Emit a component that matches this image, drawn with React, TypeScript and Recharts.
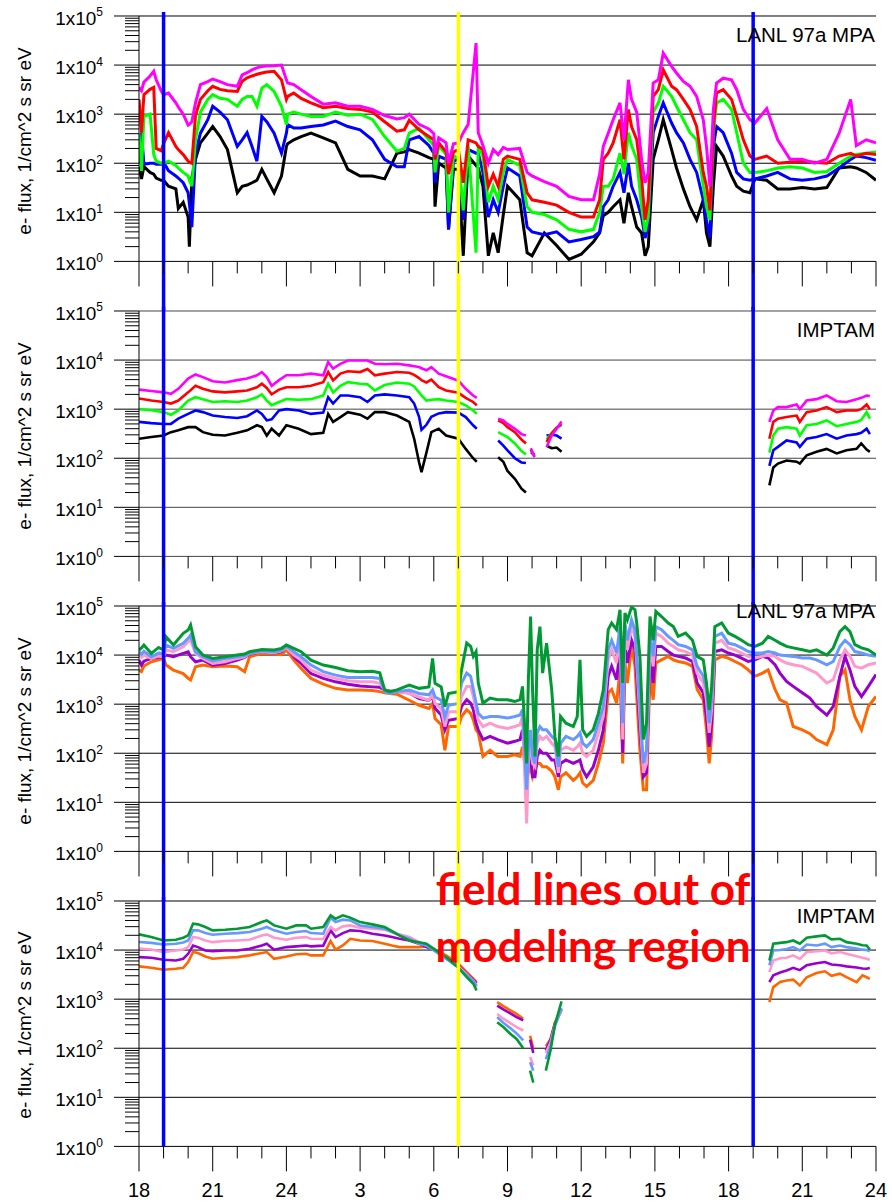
import React from "react";
import { LineChart, Line, XAxis, YAxis, ReferenceLine } from "recharts";

// Time axis in hours from 00 UT of day one (18..48 covers two evenings)
const hourTicks = [
  18, 19, 20, 21, 22, 23, 24, 25, 26, 27, 28, 29, 30, 31, 32, 33, 34, 35, 36, 37, 38, 39, 40, 41, 42, 43, 44, 45,
  46, 47, 48,
];
const decades = [1, 10, 100, 1000, 10000, 100000];
const minorSteps = [2, 3, 4, 5, 6, 7, 8, 9];
const markerHours = { sunsetStart: 19, modelLimit: 31, sunsetEnd: 43 };

// ---- LANL 97a MPA, higher energy channels ----
const lanlHighHours = [
  18.0, 18.1, 18.2, 18.45, 18.6, 18.7, 18.9, 19.0, 19.2, 19.5, 19.6, 19.8, 20.0, 20.05, 20.15, 20.3, 20.5, 20.8, 21.0,
  21.3, 21.6, 22.0, 22.2, 22.4, 22.6, 22.8, 23.0, 23.2, 23.5, 23.8, 24.0, 24.05, 24.3, 24.6, 25.0, 25.5, 26.0, 26.5,
  27.0, 27.5, 28.0, 28.5, 28.8, 29.0, 29.4, 29.8, 30.0, 30.05, 30.2, 30.5, 30.6, 30.8, 31.0,
  31.2, 31.4, 31.72, 31.81, 32.0, 32.22, 32.42, 32.62, 32.83, 33.0, 33.5, 33.8, 34.0, 34.5, 35.0, 35.5, 36.0, 36.5,
  36.75, 36.9, 37.1, 37.3, 37.58, 37.74, 37.92, 38.05, 38.26, 38.46, 38.6, 38.73, 38.93, 39.14, 39.34, 39.68, 39.88,
  40.16, 40.43, 40.7, 40.97, 41.1, 41.24, 41.38, 41.51, 41.78, 42.12, 42.33, 42.6, 42.87, 43.07, 43.55, 44.0, 44.5,
  45.0, 45.5, 46.0, 46.5, 46.97, 47.2, 47.6, 48.0,
];
const lanlHighMagenta = [
  3500, 3000, 4500, 6000, 7500, 5000, 3000, 2500, 2700, 1700, 1400, 1000, 600, 620, 700, 1700, 4000, 4600, 5200, 4600,
  4000, 3700, 6300, 7000, 8000, 8800, 9400, 9600, 9700, 10000, 5000, 4300, 4000, 3150, 2300, 1600, 1700, 1450, 1450,
  1250, 940, 800, 850, 1000, 620, 500, 400, 150, 330, 260, 100, 250, 260,
  420, 620, 28000, 420, 230, 100, 190, 150, 210, 190, 200, 65, 55, 42, 34, 21, 18, 18, 60, 220, 410, 770, 1700, 300,
  5000, 2000, 1100, 120, 40, 65, 4300, 5000, 17500, 9400, 6900, 4650, 3700, 2300, 770, 220, 34, 1250, 4300, 5400,
  5000, 3150, 1250, 770, 660, 1300, 300, 120, 120, 100, 120, 410, 2000, 230, 300, 260,
];
const lanlHighRed = [
  2000, 420, 2500, 3200, 3500, 200, 180, 250, 420, 220, 190, 150, 110, 105, 100, 950, 2000, 3000, 3700, 3200, 3000,
  2900, 4700, 5500, 6000, 6500, 6900, 7200, 7500, 5000, 2000, 2300, 2700, 2100, 1700, 1350, 1450, 1300, 1250, 1100,
  700, 450, 480, 750, 480, 350, 300, 120, 260, 170, 60, 170, 190,
  40, 300, 260, 220, 190, 34, 60, 34, 120, 140, 120, 25, 18, 16, 14, 10, 8, 8, 18, 120, 160, 260, 770, 120, 1250, 560,
  300, 48, 7, 18, 2300, 3150, 8000, 3700, 3150, 2000, 1250, 560, 65, 34, 11, 560, 2700, 3150, 2000, 900, 300, 140,
  120, 140, 100, 105, 110, 105, 100, 140, 160, 140, 160, 150,
];
const lanlHighGreen = [
  400, 70, 900, 1000, 150, 110, 100, 100, 110, 90, 80, 65, 55, 45, 34, 300, 1100, 2000, 2500, 2100, 2000, 1450, 2000,
  2300, 2300, 1450, 3400, 4000, 2900, 1450, 610, 1000, 1100, 1000, 900, 900, 1100, 950, 1000, 780, 350, 175, 200, 410,
  520, 300, 230, 65, 230, 150, 10, 140, 130,
  11, 230, 1.5, 230, 140, 16, 34, 18, 65, 120, 90, 13, 10, 9, 7, 4.5, 4, 4.5, 10, 34, 34, 48, 160, 60, 420, 230, 120,
  13, 4, 8, 1100, 1700, 3700, 2300, 1450, 770, 420, 300, 34, 13, 7, 420, 1700, 2000, 1250, 420, 100, 65, 65, 70, 80,
  85, 80, 65, 68, 100, 140, 150, 160, 170,
];
const lanlHighBlue = [
  100, 420, 95, 100, 100, 95, 95, 105, 70, 55, 50, 40, 25, 15, 5, 160, 410, 770, 1450, 1100, 770, 220, 300, 420, 220,
  110, 900, 700, 410, 160, 410, 610, 520, 520, 560, 600, 720, 560, 480, 300, 120, 85, 85, 300, 350, 230, 160, 40, 140,
  120, 4.5, 110, 120,
  7, 190, 160, 160, 65, 8, 18, 10, 34, 80, 55, 5, 4, 3.5, 4, 2.5, 2.8, 3.2, 4, 13, 18, 34, 65, 25, 100, 34, 18, 8, 3,
  5, 420, 900, 1700, 660, 420, 260, 120, 65, 18, 7, 3, 220, 560, 420, 160, 65, 48, 45, 48, 55, 65, 48, 45, 48, 55, 80,
  120, 140, 130, 115,
];
const lanlHighBlack = [
  85, 48, 85, 65, 60, 50, 45, 45, 34, 30, 12, 16, 8, 2, 50, 120, 260, 410, 560, 350, 190, 25, 34, 36, 40, 45, 75, 48,
  25, 55, 220, 250, 300, 350, 410, 330, 260, 75, 55, 55, 48, 160, 170, 190, 160, 130, 120, 13, 100, 80, 4.5, 75, 75,
  1.3, 140, 90, 80, 34, 1.3, 3.8, 1.5, 9, 34, 18, 1.5, 1.3, 3.8, 2.1, 1.1, 1.4, 2.5, 3.8, 8.5, 10, 13, 18, 6, 25, 13,
  5, 3.8, 1.3, 2, 120, 300, 770, 190, 80, 30, 13, 7, 18, 3.8, 2, 34, 220, 140, 55, 34, 27, 25, 48, 45, 30, 30, 32, 30,
  32, 80, 85, 80, 65, 45,
];

// ---- IMPTAM, higher energy channels (null = field line outside the model) ----
const imptamHighHours = [
  18.0, 18.5, 19.0, 19.3, 19.6, 20.0, 20.3, 20.6, 21.0, 21.5, 22.0, 22.4, 22.8, 23.0, 23.2, 23.4, 23.7, 24.0, 24.5,
  25.0, 25.5, 25.7, 25.9, 26.2, 26.5, 27.0, 27.3, 27.6, 28.0, 28.5, 29.0, 29.2, 29.4, 29.5, 29.7, 29.9, 30.2, 30.5,
  31.0, 31.3, 31.6, 31.75,
  32.0, 32.62, 32.83, 33.0, 33.3, 33.57, 33.75, 33.85, 33.95, 34.1, 34.3, 34.59, 34.8, 35.0, 35.2, 40.0, 43.66, 43.82,
  44.01, 44.36, 44.77, 44.9, 45.18, 45.58, 45.99, 46.4, 46.8, 47.21, 47.4, 47.62, 47.75,
];
const imptamHighMagenta = [
  2500, 2350, 2200, 2050, 2600, 4200, 5100, 4500, 3700, 3500, 3900, 4200, 4900, 5700, 4500, 3000, 3900, 4900, 4900,
  5300, 4900, 9100, 6700, 8400, 9800, 9800, 9800, 8400, 8200, 8400, 7800, 7500, 7200, 6800, 6200, 7200, 5300, 4700,
  3800, 2600, 1900, 1700,
  null, 640, 590, 500, 400, 310, 290, null, 160, 105, null, 170, 290, 400, 560, null, 550, 940, 1100, 1100, 1250, 1000,
  1500, 1600, 1900, 1450, 1400, 1600, 1700, 1900, 1850,
];
const imptamHighRed = [
  1650, 1500, 1400, 1300, 1500, 2200, 3000, 2600, 2300, 2200, 2300, 2400, 2800, 3300, 2700, 2000, 2500, 2800, 2800,
  3000, 3550, 5700, 3850, 5300, 5900, 5700, 6600, 4900, 5300, 5700, 5500, 5000, 4300, 3900, 3500, 4000, 2800, 2400,
  2150, 1700, 1400, 1200,
  null, 590, 520, 430, 340, 240, 200, null, 150, 110, null, 215, 320, 420, 500, null, 250, 550, 640, 690, 740, 550, 870,
  940, 1100, 870, 940, 940, 1000, 1250, 1000,
];
const imptamHighGreen = [
  1000, 950, 870, 770, 940, 1500, 1750, 1600, 1400, 1450, 1400, 1500, 1750, 2000, 1500, 1200, 1400, 1600, 1550, 1600,
  1900, 3300, 2200, 3000, 3550, 3300, 3200, 2400, 3100, 3500, 3300, 2900, 2200, 1900, 1500, 1550, 1600, 1500, 1400,
  1200, 940, 800,
  null, 340, 300, 270, 200, 140, 120, null, 140, 115, null, 240, 330, 420, 470, null, 130, 290, 400, 430, 400, 290, 470,
  500, 590, 450, 500, 550, 600, 870, 640,
];
const imptamHighBlue = [
  550, 520, 500, 500, 640, 800, 940, 870, 740, 690, 660, 720, 940, 800, 590, 620, 940, 1000, 940, 800, 850, 1750, 1300,
  1900, 1900, 1750, 1400, 1900, 2000, 1900, 1750, 1300, 700, 380, 480, 700, 820, 870, 850, 690, 470, 400,
  null, 230, 180, 145, 100, 82, 80, null, 130, 120, null, 290, 300, 290, 250, null, 70, 145, 170, 230, 210, 170, 250,
  270, 310, 250, 290, 310, 330, 400, 310,
];
const imptamHighBlack = [
  250, 270, 290, 340, 370, 430, 430, 340, 300, 290, 330, 370, 470, 430, 290, 400, 290, 470, 400, 310, 330, 800, 550,
  690, 870, 770, 640, 870, 870, 740, 550, 250, 83, 52, 130, 340, 400, 290, 250, 155, 100, 85,
  null, 105, 85, 55, 38, 24, 20, null, null, null, null, 180, 160, 165, 135, null, 28, 65, 78, 90, 85, 78, 115, 135,
  155, 125, 145, 155, 200, 150, 135,
];

// ---- LANL 97a MPA, lower energy channels ----
const lanlLowHours = [
  18.0, 18.1, 18.2, 18.5, 18.8, 19.0, 19.1, 19.4, 19.8, 20.0, 20.1, 20.3, 20.6, 21.0, 21.5, 22.0, 22.3, 22.5, 23.0,
  23.5, 23.8, 24.0, 24.3, 24.6, 25.0, 25.5, 26.0, 26.5, 27.0, 27.5, 27.8, 28.0, 28.2, 28.5, 29.0, 29.4, 29.8, 29.95,
  30.05, 30.3, 30.45, 30.6, 31.0,
  31.13, 31.34, 31.5, 31.61, 31.72, 31.81, 32.0, 32.29, 32.6, 33.0, 33.3, 33.51, 33.61, 33.78, 33.85, 33.94, 34.02,
  34.12, 34.21, 34.32, 34.43, 34.59, 34.8, 34.93, 35.07, 35.16, 35.38, 35.68, 35.84, 35.95, 36.06, 36.22, 36.49, 36.7,
  36.9, 37.1, 37.24, 37.44, 37.58, 37.69, 37.78, 37.88, 38.05, 38.19, 38.26, 38.39, 38.53, 38.66, 38.8, 38.93, 39.04,
  39.27, 39.54, 39.75, 39.95, 40.25, 40.53, 40.72, 40.97, 41.1, 41.21, 41.31, 41.44, 41.72, 41.99, 42.26, 42.53, 42.8,
  43.07, 43.38, 43.61, 43.89, 44.09, 44.36, 44.63, 45.0, 45.31, 45.58, 46.0, 46.26, 46.53, 46.74, 46.94, 47.14, 47.41,
  47.69, 48.0,
];
const lanlLowGreen = [
  12700, 14000, 16000, 10800, 14300, 12700, 23600, 16000, 27700, 32300, 41000, 14800, 10000, 8550, 9250, 10000, 10500,
  11700, 13000, 12700, 13700, 16000, 13700, 11700, 7900, 6250, 5600, 4800, 4600, 4700, 4350, 1950, 1800, 1950, 2450,
  2100, 2250, 8550, 2650, 2250, 890, 1650, 1800,
  5000, 17500, 15000, 9400, 11800, 2700, 1050, 1330, 1230, 1230, 1130, 1230, 2300, 62, 3150, 61000, 1950, 86, 12800,
  38000, 4300, 17500, 1950, 220, 86, 560, 410, 350, 560, 8000, 300, 220, 300, 650, 1950, 33000, 45000, 33000, 84000,
  2700, 72000, 52000, 95000, 84000, 45000, 9400, 190, 410, 61000, 20000, 78000, 61000, 45000, 38000, 24000, 28000,
  20000, 9400, 8000, 2700, 770, 2300, 38000, 45000, 28000, 24000, 20000, 16300, 15000, 17500, 24000, 20000, 17500,
  15000, 14000, 12800, 11800, 12800, 10000, 14000, 30000, 38000, 30000, 16300, 14000, 12800, 10000,
];
const lanlLowLightBlue = [
  11700, 10500, 12000, 9250, 11000, 10800, 16000, 13700, 17300, 21900, 25600, 11700, 9250, 7600, 8550, 9250, 9800,
  10800, 12200, 11700, 12500, 15200, 11700, 9250, 6250, 4600, 3900, 3500, 3500, 3500, 3350, 1800, 1650, 1800, 1950,
  1650, 1550, 1950, 1400, 1200, 550, 950, 1030,
  2700, 4300, 3700, 2000, 1050, 650, 520, 560, 560, 520, 560, 600, 770, 18, 115, 300, 86, 62, 260, 350, 300, 300, 220,
  190, 53, 160, 220, 190, 220, 260, 160, 135, 190, 410, 900, 12800, 20000, 11000, 38000, 410, 45000, 20000, 52000,
  33000, 9400, 900, 62, 115, 28000, 9400, 38000, 33000, 24000, 20000, 16300, 15000, 12800, 5900, 3700, 2000, 410, 1230,
  24000, 28000, 17500, 16300, 14000, 11800, 11000, 11000, 11800, 11000, 10000, 9700, 9400, 8700, 8700, 8000, 6350,
  7400, 15000, 20000, 16300, 11800, 11000, 10000, 9400,
];
const lanlLowPink = [
  10000, 9000, 10000, 8550, 9500, 9250, 12700, 11700, 14800, 18700, 20200, 10800, 8550, 6750, 7300, 8550, 9250, 10800,
  11700, 11200, 12200, 14300, 10000, 7900, 4950, 3900, 3350, 3000, 2850, 2850, 2650, 1950, 1800, 1800, 1650, 1400,
  1200, 1550, 1030, 820, 350, 700, 700,
  1430, 2300, 2300, 1430, 770, 480, 350, 410, 350, 320, 350, 380, 560, 3.7, 62, 190, 62, 53, 160, 220, 190, 220, 160,
  135, 40, 115, 135, 115, 135, 160, 100, 86, 115, 260, 560, 8000, 12800, 6900, 24000, 190, 28000, 12800, 38000, 24000,
  6900, 560, 40, 62, 17500, 5900, 28000, 24000, 17500, 15000, 12800, 11800, 10000, 4300, 2700, 1230, 260, 770, 17500,
  20000, 14000, 12800, 11000, 9400, 8700, 9400, 10000, 9400, 8000, 6900, 6350, 5900, 5000, 4300, 2700, 3150, 8000,
  12800, 9400, 5900, 5400, 6350, 6900,
];
const lanlLowPurple = [
  7900, 6250, 7500, 8550, 9000, 9250, 10000, 9250, 10800, 11700, 9250, 7300, 7900, 6250, 6750, 7900, 9000, 10500,
  11700, 11000, 11700, 15200, 9250, 6750, 4200, 3350, 2850, 2550, 2350, 2250, 2200, 1950, 1850, 1800, 1700, 1300, 1200,
  1450, 820, 600, 300, 470, 510,
  900, 1230, 1050, 770, 410, 300, 190, 220, 190, 160, 175, 190, 300, 33, 46, 86, 33, 33, 86, 115, 100, 100, 73, 73, 33,
  62, 73, 62, 68, 73, 46, 33, 53, 115, 300, 3700, 5900, 3150, 12800, 100, 17500, 6900, 20000, 12800, 3700, 300, 33, 40,
  9400, 2700, 15000, 15000, 11800, 10000, 9400, 8700, 7400, 2700, 1700, 560, 135, 410, 11800, 12800, 11000, 10000,
  8700, 7400, 8000, 9400, 8700, 6350, 4300, 2900, 2300, 1700, 1330, 900, 600, 900, 3700, 9400, 5000, 2300, 1430, 2300,
  4000,
];
const lanlLowOrange = [
  4950, 4600, 6000, 7300, 8000, 8550, 6250, 4950, 4200, 3350, 3100, 5800, 6250, 5800, 6000, 5800, 4600, 9250, 10800,
  10500, 10200, 12700, 7900, 5350, 3350, 2550, 2100, 1950, 1950, 1900, 1800, 1700, 1650, 1600, 1200, 950, 820, 1030,
  510, 380, 115, 350, 350,
  560, 770, 650, 480, 300, 260, 86, 115, 86, 86, 93, 86, 135, 33, 40, 53, 33, 46, 62, 62, 53, 53, 43, 33, 18, 33, 40,
  28, 33, 40, 25, 21, 28, 62, 160, 1700, 2000, 1050, 5000, 62, 6900, 2700, 15000, 5900, 1430, 115, 18, 18, 4300, 1230,
  6900, 8000, 9400, 8000, 7400, 6900, 5900, 2000, 1230, 300, 62, 220, 8000, 9400, 8700, 7400, 6350, 5000, 3700, 4300,
  5000, 2000, 1230, 1050, 350, 300, 250, 190, 150, 300, 3700, 5000, 1230, 560, 300, 900, 1430,
];

// ---- IMPTAM, lower energy channels ----
const imptamLowHours = [
  18.0, 18.5, 19.0, 19.5, 19.8, 20.0, 20.2, 20.4, 20.7, 21.0, 21.5, 22.0, 22.5, 23.0, 23.2, 23.5, 24.0, 24.4, 24.8,
  25.0, 25.5, 25.8, 26.0, 26.3, 26.6, 27.0, 27.5, 28.0, 28.3, 28.6, 29.0, 29.4, 29.7, 30.0, 30.3, 30.5, 31.0, 31.34,
  31.61, 31.74,
  32.0, 32.58, 32.83, 33.1, 33.37, 33.64, 33.8, 33.92, 34.05, 34.3, 34.56, 34.75, 34.93, 35.2, 39.0, 43.66, 43.82,
  44.1, 44.36, 44.63, 44.9, 45.18, 45.58, 45.92, 46.19, 46.53, 46.8, 47.21, 47.45, 47.62, 47.75,
];
const imptamLowGreen = [
  20900, 18400, 15700, 16200, 17800, 19900, 34400, 33400, 29500, 25200, 26000, 27200, 29500, 37200, 40200, 31800,
  27200, 31800, 31800, 27200, 29500, 51000, 43500, 51000, 45600, 37200, 33400, 29500, 24400, 19900, 15700, 14500,
  13500, 10600, 8400, 7200, 4400, 2800, 2060, 1500,
  null, 340, 270, 200, 155, 100, null, 35, 20, null, 35, 90, 300, 900, null, 6150, 13500, 14000, 14500, 15700, 13500,
  17800, 19000, 19900, 16500, 17000, 14500, 13500, 12500, 12400, 10200,
];
const imptamLowLightBlue = [
  14600, 14000, 13000, 13500, 14300, 15700, 25200, 25200, 22200, 20600, 21500, 22200, 23300, 27200, 29500, 25200,
  21500, 23300, 24400, 22200, 21500, 45600, 37200, 41600, 40200, 31800, 29500, 27200, 23300, 19900, 17000, 13500,
  12400, 9800, 7800, 6650, 4350, 3050, 2400, 1800,
  null, 430, 330, 260, 200, 145, null, 52, 35, null, 60, 110, 280, 650, null, 4900, 9800, 10000, 10500, 11500, 9800,
  13000, 12400, 13500, 11500, 12400, 11500, 10700, 10200, 10000, 9500,
];
const imptamLowPink = [
  10700, 10300, 9100, 9800, 10300, 11500, 18400, 17800, 15700, 14500, 15300, 15700, 16200, 19900, 20900, 17800, 16200,
  17800, 18400, 17000, 16800, 29500, 25200, 30400, 31800, 28500, 27200, 26000, 23300, 20900, 18400, 14500, 12400,
  10600, 8400, 6650, 4650, 3200, 2400, 1900,
  null, 500, 400, 330, 270, 230, null, 66, 45, null, 80, 130, 300, 600, null, 3550, 6150, 6800, 7000, 7800, 6600, 9100,
  9500, 9800, 8600, 9100, 8400, 7500, 7000, 6650, 6350,
];
const imptamLowPurple = [
  7200, 7000, 6350, 6150, 6650, 8400, 12400, 11500, 9800, 9500, 9800, 9800, 10600, 12400, 13500, 10200, 11500, 11900,
  12400, 11900, 12300, 25200, 18400, 22200, 25200, 24400, 21500, 19900, 18400, 17000, 15700, 13500, 11500, 10200, 8200,
  7000, 4900, 3300, 2500, 2120,
  null, 740, 620, 520, 430, 370, null, 150, 80, null, 90, 150, 320, 600, null, 2230, 3050, 3500, 3850, 4350, 3900, 4900,
  5400, 5700, 5100, 4900, 4650, 4400, 4200, 4170, 4300,
];
const imptamLowOrange = [
  4650, 4350, 3970, 4170, 4350, 5700, 9100, 8700, 7400, 6650, 7000, 7200, 7800, 8700, 9100, 6650, 7400, 8200, 8400,
  7800, 7800, 15300, 10200, 12400, 17000, 15700, 15300, 13500, 12400, 11500, 11500, 11500, 11900, 10600, 8700, 7800,
  5300, 3550, 2600, 2230,
  null, 870, 720, 600, 500, 400, null, 180, 100, null, 110, 150, 330, 650, null, 870, 1760, 2230, 2400, 2500, 1900,
  2800, 3400, 3700, 3000, 3300, 2800, 2230, 3050, 2800, 2600,
];

type Series = { key: string; color: string; values: (number | null)[] };

const yTicks = [...decades, ...decades.slice(0, -1).flatMap((d) => minorSteps.map((m) => m * d))].sort(
  (a, b) => a - b
);

const PLOT_TOPS = [16, 310.9, 605.8, 900.7];
const PLOT_H = 245.4;
const TOP_PAD = 20;
const AXIS_H = 60;
const GAP = PLOT_TOPS[1] - PLOT_TOPS[0] - PLOT_H;

const buildRows = (hours: number[], series: Series[]) =>
  hours.map((t, i) => {
    const row: Record<string, number | null> = { t };
    series.forEach((s) => {
      row[s.key] = s.values[i] ?? null;
    });
    return row;
  });

const clockLabel = (h: number) => (h > 24 ? h - 24 : h);

const YTick = (props: any) => {
  const { x, y, payload } = props;
  const v = payload.value as number;
  const exp = Math.round(Math.log10(v));
  const major = Math.abs(v - Math.pow(10, exp)) < 1e-9;
  return (
    <g>
      <line x1={x - (major ? 25 : 14)} x2={x} y1={y} y2={y} stroke="#000" strokeWidth={1} />
      {major && (
        <text x={x - 36} y={y + 9} textAnchor="end" fontSize={19} fill="#000">
          1x10
          <tspan fontSize={12} dy={-8.5}>
            {exp}
          </tspan>
        </text>
      )}
    </g>
  );
};

const XTick = (props: any) => {
  const { x, y, payload, labelled } = props;
  const v = payload.value as number;
  const major = (v - 18) % 3 === 0;
  return (
    <g>
      <line x1={x} x2={x} y1={y} y2={y + (major ? 25 : 12)} stroke="#000" strokeWidth={1} />
      {labelled && major && (
        <text x={x} y={y + 51} textAnchor="middle" fontSize={20} fill="#000">
          {clockLabel(v)}
        </text>
      )}
    </g>
  );
};

// vertical markers run through the gap down to the next panel
const markerShape = (color: string, below: number) => (p: any) => (
  <line
    x1={p.x1}
    x2={p.x2}
    y1={Math.min(p.y1, p.y2) - 4}
    y2={Math.max(p.y1, p.y2) + below}
    stroke={color}
    strokeWidth={3.5}
  />
);

type PanelProps = {
  index: number;
  hours: number[];
  series: Series[];
  gridColor: string;
  lineWidth: number;
};

const Panel = ({ index, hours, series, gridColor, lineWidth }: PanelProps) => {
  const rows = buildRows(hours, series);
  const last = index === PLOT_TOPS.length - 1;
  const below = last ? 0 : GAP;
  return (
    <div style={{ position: "absolute", left: 0, top: PLOT_TOPS[index] - TOP_PAD }}>
      <LineChart
        width={892}
        height={TOP_PAD + PLOT_H + AXIS_H}
        data={rows}
        margin={{ top: TOP_PAD, right: 16, bottom: 0, left: 0 }}
      >
        <XAxis
          dataKey="t"
          type="number"
          domain={[18, 48]}
          ticks={hourTicks}
          interval={0}
          axisLine={false}
          tickLine={false}
          tickSize={0}
          tickMargin={0}
          height={AXIS_H}
          allowDataOverflow
          tick={(p: any) => <XTick {...p} labelled={last} />}
        />
        <YAxis
          type="number"
          scale="log"
          domain={[1, 100000]}
          ticks={yTicks}
          interval={0}
          tickLine={false}
          tickSize={0}
          tickMargin={0}
          width={139}
          allowDataOverflow
          axisLine={{ stroke: "#000", strokeWidth: 1 }}
          tick={YTick}
        />
        {decades.map((d) => (
          <ReferenceLine key={d} y={d} stroke={gridColor} strokeWidth={1} />
        ))}
        {series.map((s) => (
          <Line
            key={s.key}
            dataKey={s.key}
            type="linear"
            stroke={s.color}
            strokeWidth={lineWidth}
            dot={false}
            activeDot={false}
            connectNulls={false}
            isAnimationActive={false}
          />
        ))}
        <ReferenceLine x={markerHours.sunsetStart} stroke="#0000ff" shape={markerShape("#0000ff", below)} />
        <ReferenceLine x={markerHours.modelLimit} stroke="#ffff00" shape={markerShape("#ffff00", below)} />
        <ReferenceLine x={markerHours.sunsetEnd} stroke="#0000ff" shape={markerShape("#0000ff", below)} />
      </LineChart>
    </div>
  );
};

const highChannels = (m: any[], r: any[], g: any[], b: any[], k: any[]): Series[] => [
  { key: "black", color: "#000000", values: k },
  { key: "blue", color: "#0000ff", values: b },
  { key: "green", color: "#00ff00", values: g },
  { key: "red", color: "#ff0000", values: r },
  { key: "magenta", color: "#ff00ff", values: m },
];

const lowChannels = (o: any[], p: any[], pk: any[], lb: any[], g: any[]): Series[] => [
  { key: "orange", color: "#ff6600", values: o },
  { key: "purple", color: "#9900cc", values: p },
  { key: "pink", color: "#ff99cc", values: pk },
  { key: "lightblue", color: "#6699ff", values: lb },
  { key: "green", color: "#009933", values: g },
];

const panelTitles = ["LANL 97a MPA", "IMPTAM", "LANL 97a MPA", "IMPTAM"];
const titleBaselines = [41.5, 336.7, 618.3, 922.7];

export default function App() {
  return (
    <div
      style={{
        position: "absolute",
        left: 0,
        top: 0,
        width: 892,
        height: 1203,
        overflow: "hidden",
        background: "#fff",
        fontFamily: "'Liberation Sans', Arial, sans-serif",
        color: "#000",
      }}
    >
      <Panel
        index={0}
        hours={lanlHighHours}
        series={highChannels(lanlHighMagenta, lanlHighRed, lanlHighGreen, lanlHighBlue, lanlHighBlack)}
        gridColor="#000"
        lineWidth={3}
      />
      <Panel
        index={1}
        hours={imptamHighHours}
        series={highChannels(imptamHighMagenta, imptamHighRed, imptamHighGreen, imptamHighBlue, imptamHighBlack)}
        gridColor="#444"
        lineWidth={2.6}
      />
      <Panel
        index={2}
        hours={lanlLowHours}
        series={lowChannels(lanlLowOrange, lanlLowPurple, lanlLowPink, lanlLowLightBlue, lanlLowGreen)}
        gridColor="#000"
        lineWidth={3}
      />
      <Panel
        index={3}
        hours={imptamLowHours}
        series={lowChannels(imptamLowOrange, imptamLowPurple, imptamLowPink, imptamLowLightBlue, imptamLowGreen)}
        gridColor="#000"
        lineWidth={2.6}
      />

      {PLOT_TOPS.map((top, i) => (
        <div
          key={`ytitle-${i}`}
          style={{
            position: "absolute",
            left: 25,
            top: top + PLOT_H / 2 + 2,
            transform: "translate(-50%, -50%) rotate(-90deg)",
            whiteSpace: "nowrap",
            fontSize: 19,
            lineHeight: "24px",
          }}
        >
          e- flux, 1/cm^2 s sr eV
        </div>
      ))}

      {panelTitles.map((t, i) => (
        <div
          key={`ptitle-${i}`}
          style={{
            position: "absolute",
            right: 892 - 875,
            top: titleBaselines[i] - 19,
            fontSize: 20.5,
            lineHeight: "23px",
            whiteSpace: "nowrap",
          }}
        >
          {t}
        </div>
      ))}

      <div
        style={{
          position: "absolute",
          left: 393,
          width: 400,
          top: 860,
          textAlign: "center",
          color: "#ff0000",
          fontFamily: "Lato, 'Open Sans', sans-serif",
          fontWeight: 700,
          fontSize: 44,
          lineHeight: "57px",
          whiteSpace: "nowrap",
        }}
      >
        field lines out of
        <br />
        modeling region
      </div>
    </div>
  );
}
